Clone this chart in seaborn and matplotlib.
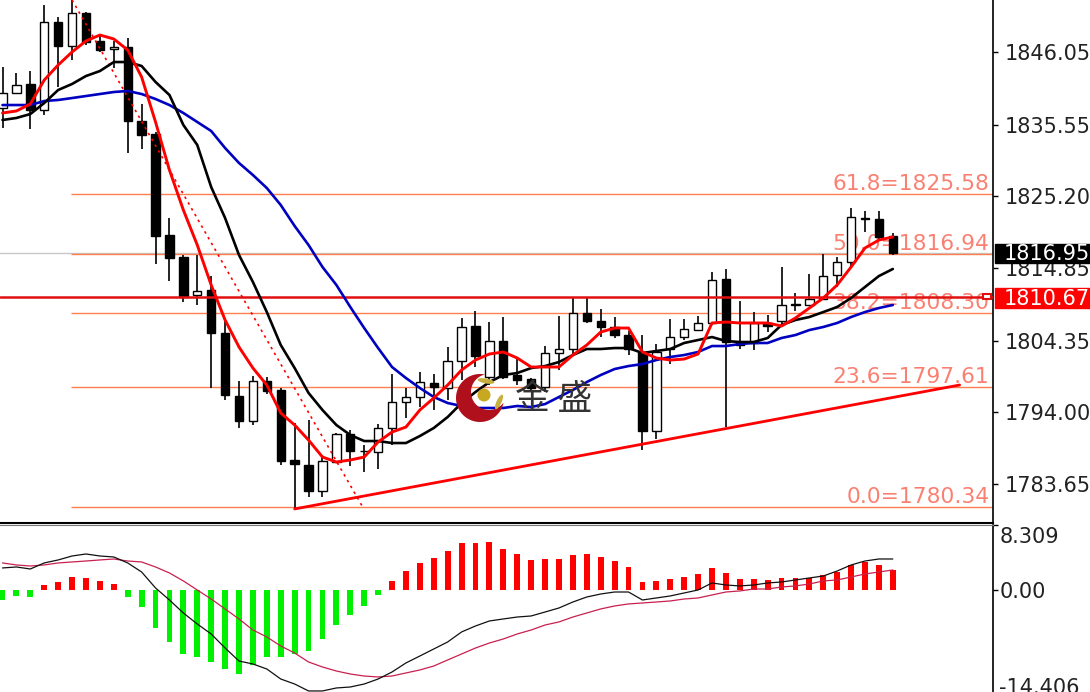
import numpy as np
import pandas as pd
import matplotlib
matplotlib.use("Agg")
import matplotlib.pyplot as plt
from matplotlib.patches import Circle, Ellipse, Polygon, Rectangle
from matplotlib.transforms import IdentityTransform
import seaborn as sns

opens = [1837.96, 1840.13, 1841.43, 1837.67, 1850.38, 1846.92, 1851.68, 1847.64, 1846.48, 1846.77, 1836.08, 1834.20, 1819.62,
         1816.44, 1810.95, 1811.67, 1805.46, 1796.36, 1792.75, 1798.53, 1797.23, 1787.12, 1786.39, 1782.64, 1786.83, 1790.87,
         1788.42, 1788.27, 1791.74, 1795.49, 1796.22, 1798.24, 1797.52, 1801.42, 1806.47, 1799.10, 1804.30, 1799.39, 1798.82,
         1797.66, 1802.57, 1803.15, 1808.35, 1807.20, 1806.33, 1805.17, 1802.72, 1791.31, 1803.15, 1804.88, 1805.89, 1806.91,
         1813.26, 1804.16, 1804.02, 1806.91, 1807.20, 1809.51, 1809.51, 1810.37, 1813.84, 1815.72, 1822.07, 1821.93, 1819.47]
highs = [1843.88, 1843.02, 1843.30, 1852.84, 1851.10, 1854.50, 1851.83, 1848.36, 1847.64, 1848.07, 1838.54, 1834.49, 1822.07,
         1816.73, 1816.73, 1813.69, 1807.34, 1798.53, 1799.25, 1799.10, 1797.52, 1792.46, 1792.89, 1787.84, 1791.02, 1791.45,
         1789.28, 1792.32, 1799.54, 1797.52, 1799.83, 1799.54, 1803.44, 1807.63, 1808.64, 1807.05, 1807.77, 1801.85, 1798.96,
         1803.58, 1807.92, 1810.52, 1810.52, 1808.93, 1807.77, 1805.75, 1805.17, 1803.87, 1807.48, 1807.48, 1807.92, 1814.27,
         1814.71, 1810.08, 1808.49, 1808.06, 1815.00, 1811.24, 1813.98, 1816.87, 1816.44, 1823.52, 1823.08, 1823.08, 1819.90]
lows = [1835.07, 1839.98, 1834.93, 1836.95, 1841.00, 1844.89, 1847.06, 1846.05, 1843.74, 1831.46, 1832.04, 1815.43, 1812.97,
        1809.94, 1809.51, 1797.52, 1795.78, 1791.74, 1792.17, 1796.65, 1786.39, 1780.18, 1781.77, 1781.77, 1786.68, 1786.25,
        1785.38, 1785.82, 1789.28, 1793.18, 1794.77, 1794.34, 1795.78, 1798.67, 1800.55, 1797.95, 1798.82, 1797.95, 1796.94,
        1796.94, 1800.12, 1802.43, 1806.91, 1804.88, 1804.74, 1802.28, 1788.56, 1790.15, 1800.98, 1804.45, 1805.89, 1806.62,
        1791.88, 1803.15, 1803.00, 1805.60, 1806.47, 1808.64, 1809.36, 1810.23, 1812.11, 1814.85, 1820.05, 1819.04, 1816.73]
closes = [1840.13, 1841.28, 1837.67, 1850.38, 1846.92, 1851.68, 1847.49, 1846.34, 1846.77, 1836.08, 1834.06, 1819.47, 1816.29,
          1810.66, 1811.53, 1805.46, 1796.51, 1792.75, 1798.53, 1797.08, 1786.97, 1786.54, 1782.64, 1786.97, 1790.87, 1788.42,
          1788.35, 1791.74, 1795.49, 1796.22, 1798.38, 1797.66, 1801.42, 1806.33, 1802.14, 1804.30, 1799.10, 1798.67, 1797.52,
          1802.57, 1803.15, 1808.35, 1807.20, 1806.33, 1805.17, 1803.15, 1791.31, 1802.72, 1804.88, 1806.04, 1806.91, 1813.12,
          1804.16, 1803.73, 1806.91, 1806.47, 1809.51, 1809.58, 1810.37, 1813.69, 1815.72, 1822.22, 1822.00, 1819.33, 1817.00]

ma_fast = [1837.24, 1837.53, 1838.54, 1842.00, 1844.17, 1846.05, 1847.64, 1848.50, 1847.93, 1846.34, 1842.44, 1835.94, 1829.00,
           1823.23, 1818.17, 1812.40, 1807.34, 1803.44, 1800.40, 1797.95, 1793.91, 1792.17, 1790.00, 1787.55, 1786.83, 1787.12,
           1787.55, 1789.72, 1791.16, 1791.88, 1794.34, 1796.07, 1797.95, 1800.12, 1801.56, 1802.43, 1802.72, 1801.85, 1800.55,
           1800.55, 1800.55, 1802.28, 1803.73, 1805.60, 1806.18, 1806.18, 1802.72, 1801.85, 1801.56, 1801.70, 1802.43, 1806.91,
           1807.05, 1806.91, 1806.91, 1806.91, 1806.47, 1807.63, 1809.07, 1810.52, 1812.40, 1815.00, 1817.74, 1818.89, 1819.33]
ma_mid = [1836.23, 1836.52, 1837.09, 1838.68, 1840.56, 1841.43, 1842.58, 1843.30, 1844.60, 1844.60, 1844.03, 1841.72, 1839.84,
          1835.51, 1832.62, 1826.55, 1822.07, 1816.73, 1812.83, 1808.49, 1803.73, 1800.40, 1796.80, 1794.34, 1792.17, 1790.73,
          1789.86, 1789.86, 1789.57, 1789.57, 1790.58, 1791.74, 1793.33, 1795.35, 1796.94, 1798.38, 1799.39, 1799.68, 1800.40,
          1800.69, 1801.27, 1802.28, 1803.15, 1803.15, 1803.29, 1803.29, 1802.57, 1802.86, 1803.15, 1804.02, 1804.45, 1804.88,
          1804.30, 1804.16, 1804.16, 1804.74, 1806.62, 1807.34, 1807.77, 1808.49, 1809.22, 1810.52, 1812.11, 1813.69, 1814.71]
ma_slow = [1838.39, 1838.39, 1838.39, 1838.97, 1839.12, 1839.40, 1839.69, 1839.98, 1840.27, 1840.42, 1839.98, 1839.26, 1838.39,
           1837.24, 1835.94, 1834.64, 1832.18, 1830.02, 1828.28, 1826.40, 1823.95, 1820.92, 1818.17, 1815.00, 1812.40, 1809.22,
           1806.18, 1803.29, 1800.55, 1798.96, 1797.52, 1796.22, 1795.35, 1794.92, 1794.63, 1794.63, 1794.63, 1794.92, 1794.77,
           1795.20, 1796.22, 1797.23, 1798.38, 1799.39, 1800.26, 1800.69, 1800.98, 1801.56, 1802.00, 1802.28, 1802.72, 1803.58,
           1803.58, 1803.87, 1804.02, 1804.02, 1804.74, 1805.17, 1805.89, 1806.33, 1806.91, 1807.77, 1808.49, 1809.07, 1809.51]

macd_hist = [-1.54, -0.92, -1.08, 0.77, 1.23, 2.00, 1.85, 1.39, 0.92, -1.08, -2.62, -5.85, -8.00, -9.85, -10.31, -11.08, -12.16,
             -12.93, -11.54, -10.31, -10.31, -9.85, -9.39, -7.54, -5.39, -3.85, -2.46, -0.77, 1.39, 2.92, 4.16, 4.92, 6.00, 7.23,
             7.23, 7.39, 6.31, 5.54, 4.62, 4.77, 4.77, 5.39, 5.54, 5.08, 4.46, 3.54, 1.23, 1.39, 1.69, 2.00, 2.46, 3.39, 2.62,
             1.69, 1.69, 1.54, 1.85, 1.85, 1.85, 2.31, 2.77, 3.85, 4.31, 3.85, 3.08]
macd_line = [3.39, 3.54, 3.23, 4.16, 4.62, 5.23, 5.54, 5.23, 5.08, 4.16, 2.77, 0.31, -1.54, -3.54, -5.23, -6.77, -8.93, -10.93,
             -11.39, -12.16, -13.70, -14.47, -15.54, -15.54, -15.08, -14.93, -14.47, -13.70, -12.62, -11.23, -10.16, -9.08,
             -8.00, -6.46, -5.54, -4.77, -4.46, -4.16, -4.00, -3.39, -2.77, -1.85, -1.08, -0.62, -0.31, -0.31, -1.54, -1.23,
             -0.92, -0.46, 0.00, 1.08, 0.77, 0.62, 0.77, 1.08, 1.23, 1.54, 1.85, 2.15, 2.92, 3.85, 4.46, 4.77, 4.77]
macd_signal = [4.16, 3.85, 3.69, 3.85, 4.16, 4.31, 4.46, 4.62, 4.77, 4.46, 4.31, 3.54, 2.62, 1.39, 0.00, -1.39, -2.92, -4.46,
               -6.16, -7.23, -8.62, -9.70, -11.08, -11.85, -12.47, -12.93, -13.24, -13.39, -13.24, -12.77, -12.31, -11.70,
               -10.77, -9.85, -8.93, -8.16, -7.54, -6.77, -6.16, -5.39, -4.92, -4.16, -3.54, -2.92, -2.46, -2.15, -2.00, -1.85,
               -1.69, -1.39, -1.23, -0.77, -0.31, -0.15, 0.15, 0.15, 0.46, 0.62, 0.92, 1.39, 1.54, 2.00, 2.46, 2.77, 3.08]

price_ticks = [1846.05, 1835.55, 1825.20, 1814.85, 1804.35, 1794.00, 1783.65]
fib_levels = [61.8, 50.0, 38.2, 23.6, 0.0]
fib_prices = [1825.58, 1816.94, 1808.30, 1797.61, 1780.34]
last_price = 1816.95
alert_price = 1810.67
trend_x = [21, 68.8]
trend_y = [1780.05, 1797.95]
fall_x = [5, 25.9]
fall_y = [1853.56, 1780.30]

W, H = 1090, 692
sns.set_style("white")
plt.rcParams["font.family"] = ["DejaVu Sans", "Noto Sans CJK SC"]

fig = plt.figure(figsize=(W / 100, H / 100), dpi=100)
ax = fig.add_axes([0, (H - 523) / H, 993 / W, 523 / H])
ax2 = fig.add_axes([0, 0, 993 / W, (H - 525) / H])

idx = np.arange(len(opens))
df = pd.DataFrame({"i": idx, "open": opens, "high": highs, "low": lows, "close": closes})
salmon = "#FA8072"

ax.axhline(last_price, color="#c8c8c8", lw=1, zorder=1)
ax.hlines(fib_prices, 4.9, 72, color="#FF7F50", lw=1, zorder=1.2)
for lev, p in zip(fib_levels, fib_prices):
    ax.text(0.9965, p, f"{lev:.1f}={p:.2f}", transform=ax.get_yaxis_transform(), ha="right", va="bottom",
            color=salmon, fontsize=15.7, zorder=1.3)

# candles
ax.vlines(df["i"], df["low"], df["high"], color="black", lw=1.2, zorder=2)
up = df["close"] >= df["open"]
body = (df["close"] - df["open"]).abs().clip(lower=0.1)
ax.bar(df["i"], body, bottom=df[["open", "close"]].min(axis=1), width=0.6,
       color=["white" if u else "black" for u in up], edgecolor="black", linewidth=1, zorder=2.1)

ax.plot(fall_x, fall_y, color="red", lw=1.2, ls=(0, (1.5, 2.5)), zorder=2.5)
ax.axhline(alert_price, color="#E01010", lw=1.8, zorder=2.6)
ax.plot(trend_x, trend_y, color="red", lw=2, zorder=2.7)

sns.lineplot(x=idx, y=ma_slow, ax=ax, color="#0000C0", lw=1.9, errorbar=None, zorder=3)
sns.lineplot(x=idx, y=ma_mid, ax=ax, color="black", lw=1.9, errorbar=None, zorder=3.1)
sns.lineplot(x=idx, y=ma_fast, ax=ax, color="red", lw=2.1, errorbar=None, zorder=3.2)

ax.set_xlim(-0.18, 71.2)
ax.set_ylim(1778.02, 1853.56)
ax.set_xticks([])
ax.yaxis.tick_right()
ax.set_yticks(price_ticks, [f"{t:.2f}" for t in price_ticks])
ax.tick_params(axis="y", length=3.6, width=1, pad=5, labelsize=15, labelcolor="#222222", color="black")
ax.set_ylabel("")
for s in ["left", "top"]:
    ax.spines[s].set_visible(False)
ax.spines["right"].set_color("black")
ax.spines["right"].set_linewidth(1.2)
ax.spines["bottom"].set_color("black")
ax.spines["bottom"].set_linewidth(1.5)

# macd panel
sign = ["up" if v > 0 else "down" for v in macd_hist]
sns.barplot(x=idx, y=macd_hist, hue=sign, hue_order=["up", "down"], palette={"up": "#FF0000", "down": "#00F000"},
            ax=ax2, native_scale=True, dodge=False, width=0.42, saturation=1, errorbar=None, legend=False, zorder=2,
            linewidth=0)
for bar in ax2.patches:
    bar.set_width(0.42)
sns.lineplot(x=idx, y=macd_signal, ax=ax2, color="#C8204F", lw=0.9, errorbar=None, zorder=3)
sns.lineplot(x=idx, y=macd_line, ax=ax2, color="#111111", lw=0.9, errorbar=None, zorder=3.1)
ax2.set_xlim(-0.18, 71.2)
ax2.set_ylim(-15.7, 10.0)
ax2.set_xticks([])
ax2.yaxis.tick_right()
ax2.set_yticks([10.0, 0.0], ["", "0.00"])
ax2.tick_params(axis="y", length=3.6, width=1, pad=1.5, labelsize=15, labelcolor="#222222", color="black")
ax2.text(1.0065, 8.16, "8.309", transform=ax2.get_yaxis_transform(), va="center", fontsize=15, color="#222222")
ax2.text(1.0065, -15.08, "-14.406", transform=ax2.get_yaxis_transform(), va="center", fontsize=15, color="#222222",
         clip_on=False)
for s in ["left", "bottom"]:
    ax2.spines[s].set_visible(False)
ax2.spines["top"].set_color("#777777")
ax2.spines["right"].set_color("black")
ax2.spines["right"].set_linewidth(1.2)

# price boxes and alert marker, placed in pixels
px = IdentityTransform()
def py(y):
    return H - y

fig.add_artist(Rectangle((995, py(263)), 95, 19, transform=px, color="black", zorder=5))
fig.text(1004 / W, py(253.5) / H, f"{last_price:.2f}", color="white", fontsize=15, va="center", zorder=6)
fig.add_artist(Rectangle((995, py(308)), 95, 20, transform=px, color="#FF0000", zorder=5))
fig.text(1004 / W, py(299) / H, f"{alert_price:.2f}", color="white", fontsize=15, va="center", zorder=6)
fig.add_artist(Rectangle((983, py(299)), 8, 5, transform=px, fc="white", ec="#E01010", lw=1.5, zorder=5))

# watermark logo
cx, cy, r = 480, py(398), 24
t = np.linspace(0, 2 * np.pi, 120)
ix, iy, ir = 489, py(392), 18
outer = np.c_[cx + r * np.cos(t), cy + r * np.sin(t)]
inner = np.c_[ix + ir * np.cos(t[::-1]), iy + ir * np.sin(t[::-1])]
keep = ((outer[:, 0] - ix) ** 2 + (outer[:, 1] - iy) ** 2) > ir ** 2
keep_in = ((inner[:, 0] - cx) ** 2 + (inner[:, 1] - cy) ** 2) < r ** 2
outer_k = np.roll(outer, -int(np.argmax(~keep)), axis=0)
outer_k = outer_k[((outer_k[:, 0] - ix) ** 2 + (outer_k[:, 1] - iy) ** 2) > ir ** 2]
inner_k = np.roll(inner, -int(np.argmax(~keep_in)), axis=0)
inner_k = inner_k[((inner_k[:, 0] - cx) ** 2 + (inner_k[:, 1] - cy) ** 2) < r ** 2]
fig.add_artist(Polygon(np.r_[outer_k, inner_k], closed=True, transform=px, fc="#B0101C", ec="none", zorder=4))
fig.add_artist(Circle((484, py(395)), 6.5, transform=px, fc="#C8A820", ec="none", zorder=4))
fig.add_artist(Ellipse((486, py(381)), 17, 5, angle=-10, transform=px, fc="#C8B040", ec="none", zorder=4))
fig.add_artist(Ellipse((499, py(402)), 5, 16, angle=-25, transform=px, fc="#C8B040", ec="none", zorder=4))
fig.text(515 / W, py(400) / H, "金 盛", family=["Noto Sans CJK SC", "DejaVu Sans"], fontsize=25, color="#333333",
         va="center", zorder=4)

fig.savefig("out.png", dpi=100)
